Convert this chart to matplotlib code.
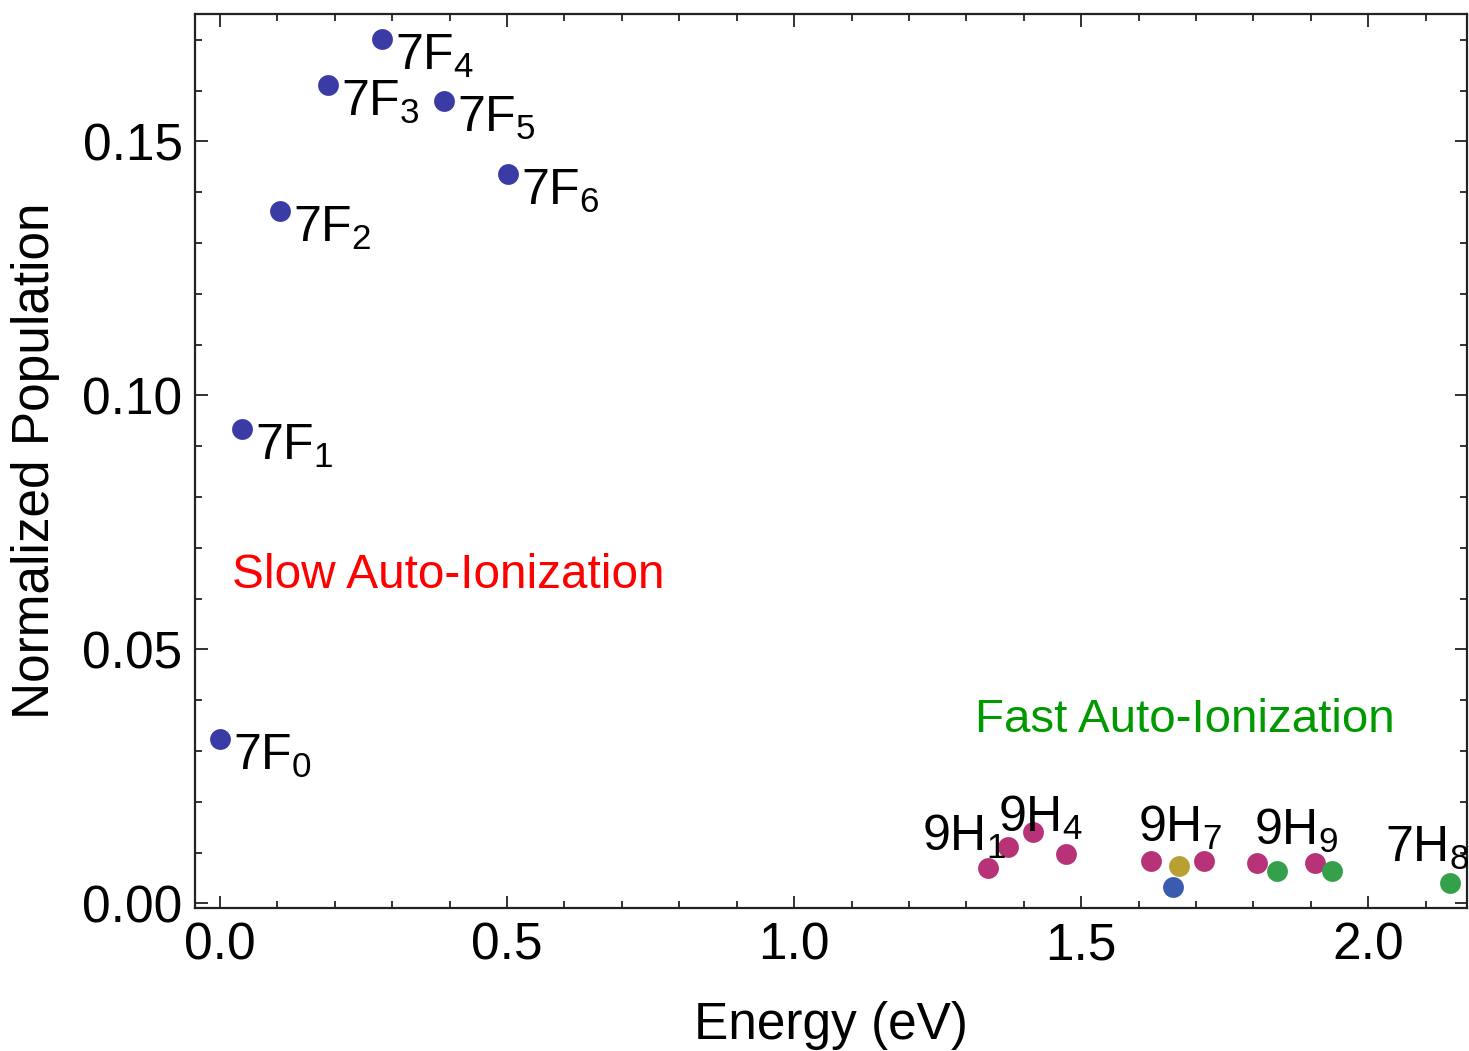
import matplotlib
matplotlib.use('Agg')
import matplotlib.pyplot as plt
from matplotlib.ticker import MultipleLocator, FormatStrFormatter

# 7F multiplet (slow auto-ionization)
f_energy = [0.0, 0.038, 0.104, 0.188, 0.282, 0.390, 0.502]
f_pop = [0.0324, 0.0934, 0.1363, 0.1611, 0.1702, 0.1580, 0.1436]
f_labels = ['7F_0', '7F_1', '7F_2', '7F_3', '7F_4', '7F_5', '7F_6']

# high-lying states (fast auto-ionization)
h_energy = [1.338, 1.373, 1.416, 1.474, 1.622, 1.714, 1.807, 1.908]
h_pop = [0.0070, 0.0111, 0.0141, 0.0098, 0.0084, 0.0084, 0.0080, 0.0080]
gold_energy = [1.671]
gold_pop = [0.0074]
blue_energy = [1.660]
blue_pop = [0.0033]
green_energy = [1.841, 1.937, 2.143]
green_pop = [0.0064, 0.0064, 0.0040]

plt.rcParams['font.family'] = ['Liberation Sans', 'DejaVu Sans']
plt.rcParams['mathtext.fontset'] = 'custom'
plt.rcParams['mathtext.rm'] = 'Liberation Sans'
plt.rcParams['mathtext.it'] = 'Liberation Sans'
plt.rcParams['mathtext.default'] = 'regular'

fig = plt.figure(figsize=(14.69, 10.51), dpi=100)
ax = fig.add_axes([195 / 1469, 143 / 1051, 1272 / 1469, 894 / 1051])

ms = 15
ax.plot(f_energy, f_pop, 'o', color='#3b3ba6', ms=ms, mew=0)
ax.plot(h_energy, h_pop, 'o', color='#b83278', ms=ms, mew=0)
ax.plot(gold_energy, gold_pop, 'o', color='#b8a032', ms=ms, mew=0)
ax.plot(blue_energy, blue_pop, 'o', color='#3a5bb0', ms=ms, mew=0)
ax.plot(green_energy, green_pop, 'o', color='#34a04a', ms=ms, mew=0)

# labels for the 7F levels sit right of and below each point
for x, y, lab in zip(f_energy, f_pop, f_labels):
    ax.annotate('$' + lab + '$', (x, y), xytext=(13, -31), textcoords='offset pixels',
                ha='left', va='baseline', fontsize=36)

# labels for the high states: (anchor x, anchor y, text, dx, dy)
h_labels = [
    (h_energy[0], h_pop[0], '9H_1', -66, 17),
    (h_energy[2], h_pop[2], '9H_4', -35, 0),
    (gold_energy[0], gold_pop[0], '9H_7', -41, 24),
    (green_energy[0], green_pop[0], '9H_9', -23, 26),
    (green_energy[2], green_pop[2], '7H_8', -65, 21),
]
for x, y, lab, dx, dy in h_labels:
    ax.annotate('$' + lab + '$', (x, y), xytext=(dx, dy), textcoords='offset pixels',
                ha='left', va='baseline', fontsize=36)

ax.text(0.021, 0.0621, 'Slow Auto-Ionization', color='#ff0000', fontsize=34.4,
        ha='left', va='baseline')
ax.text(1.315, 0.0338, 'Fast Auto-Ionization', color='#009900', fontsize=34.2,
        ha='left', va='baseline')

ax.set_xlim(-0.0436, 2.172)
ax.set_ylim(-0.0009, 0.1751)
ax.xaxis.set_major_locator(MultipleLocator(0.5))
ax.xaxis.set_minor_locator(MultipleLocator(0.1))
ax.yaxis.set_major_locator(MultipleLocator(0.05))
ax.yaxis.set_minor_locator(MultipleLocator(0.01))
ax.xaxis.set_major_formatter(FormatStrFormatter('%.1f'))
ax.yaxis.set_major_formatter(FormatStrFormatter('%.2f'))

ax.tick_params(which='both', direction='in', top=True, right=True, width=1.3, color='#222222')
ax.tick_params(which='major', length=9)
ax.tick_params(which='minor', length=5)
ax.tick_params(axis='x', which='major', labelsize=37, pad=10)
ax.tick_params(axis='y', which='major', labelsize=37, pad=9)
for sp in ax.spines.values():
    sp.set_linewidth(1.6)
    sp.set_color('#222222')

ax.set_xlabel('Energy (eV)', fontsize=37, labelpad=22)
ax.set_ylabel('Normalized Population', fontsize=37, labelpad=16)

fig.savefig('out.png', dpi=100)
